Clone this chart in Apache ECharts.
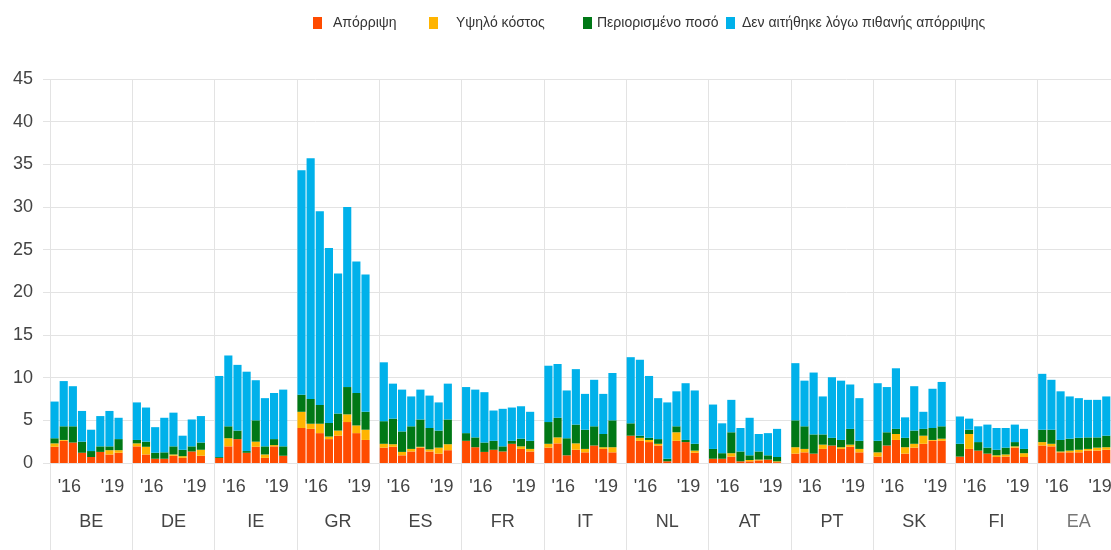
<!DOCTYPE html>
<html><head><meta charset="utf-8">
<script src="https://cdn.jsdelivr.net/npm/echarts@6/dist/echarts.min.js"></script>
<style>html,body{margin:0;padding:0;background:#fff}#c{width:1111px;height:550px}</style>
</head><body><div id="c"></div>
<script>
const countries = ['BE','DE','IE','GR','ES','FR','IT','NL','AT','PT','SK','FI','EA'];
const yearTicks = ['', '', "'16", '', '', '', "'19", ''];
const seriesNames = ['Απόρριψη', 'Υψηλό κόστος', 'Περιορισμένο ποσό', 'Δεν αιτήθηκε λόγω πιθανής απόρριψης'];

const rejected = [
  [1.9,2.6,2.4,1.2,0.7,1.3,1.0,1.2],
  [1.95,1.0,0.5,0.5,0.85,0.6,1.35,0.85],
  [0.6,1.95,2.8,1.2,1.9,0.6,1.95,0.85],
  [4.1,4.0,3.5,2.8,3.2,4.8,3.5,2.7],
  [1.8,1.9,0.9,1.35,1.8,1.35,1.1,1.5],
  [2.6,1.85,1.3,1.55,1.35,2.25,1.65,1.35],
  [1.8,2.3,0.9,1.55,1.25,2.05,1.65,1.25],
  [3.2,2.6,2.45,2.05,0.2,2.6,2.45,1.2],
  [0.5,0.5,0.75,0.2,0.2,0.3,0.4,0.1],
  [1.1,1.25,1.1,1.65,2.05,1.65,1.9,1.25],
  [0.75,2.05,2.7,1.1,1.8,2.25,2.6,2.6],
  [0.75,1.65,1.45,1.1,0.7,0.75,1.8,0.7],
  [2.05,1.95,1.25,1.25,1.25,1.45,1.45,1.55]
];
const highCost = [
  [0.4,0.1,0,0,0,0,0.5,0.3],
  [0.35,0.9,0,0,0.15,0.2,0,0.7],
  [0,0.95,0,0,0.6,0.4,0.15,0],
  [1.9,0.6,1.1,0.3,0.6,0.9,0.9,1.2],
  [0.45,0.3,0.4,0.3,0.1,0.25,0.7,0.7],
  [0,0,0,0,0,0,0.3,0.3],
  [0.45,0.7,0,0.75,0.4,0,0.2,0.6],
  [0,0.35,0.25,0.2,0,1.0,0,0.25],
  [0,0,0.4,0,0.15,0.1,0,0.1],
  [0.75,0.4,0,0.5,0,0.2,0.25,0.4],
  [0.5,0,0.7,0.75,0.45,0.95,0.1,0.25],
  [0,1.75,0,0,0.2,0.25,0.15,0.45],
  [0.4,0.3,0.1,0.2,0.3,0.2,0.35,0.3]
];
const limitedAmount = [
  [0.6,1.6,1.9,1.3,0.7,0.65,0.45,1.3],
  [0.4,0.6,0.7,0.75,0.95,0.75,0.6,0.85],
  [0.1,1.4,1.0,0.2,2.5,0.95,0.7,1.1],
  [2.0,2.9,2.2,1.6,2.0,3.2,3.8,2.1],
  [2.65,3.0,2.4,2.65,3.2,2.5,2.0,2.9],
  [0.9,1.15,1.1,1.05,0.6,0.35,0.9,0.95],
  [2.55,2.3,2.0,2.2,2.25,2.25,1.55,3.15],
  [1.45,0.25,0.25,0.55,0.3,0.7,0.25,0.8],
  [1.15,0.65,2.45,1.15,0.55,0.95,0.5,0.5],
  [3.15,2.65,2.25,1.2,0.9,0.85,1.85,0.95],
  [1.35,1.55,0.6,1.1,1.55,0.8,1.4,1.45],
  [1.5,0.5,1.0,0.7,0.65,0.8,0.5,0.5],
  [1.45,1.65,1.35,1.4,1.4,1.35,1.2,1.35]
];
const notApplied = [
  [4.3,5.3,4.7,3.6,2.5,3.55,4.15,2.5],
  [4.4,4.0,3.0,4.05,3.95,1.65,3.15,3.1],
  [9.5,8.3,7.7,9.3,4.7,5.65,5.4,6.65],
  [26.3,28.2,22.7,20.5,16.4,21.1,15.4,16.1],
  [6.9,4.1,4.9,3.5,3.5,3.8,3.3,4.2],
  [5.4,5.6,5.9,3.55,4.4,3.9,3.8,3.4],
  [6.6,6.3,5.6,6.5,4.2,5.45,4.7,5.55],
  [7.75,8.9,7.25,4.8,6.6,4.1,6.65,6.25],
  [5.2,3.5,3.8,2.75,4.4,2.05,2.6,3.3],
  [6.7,5.35,7.25,4.45,7.1,6.95,5.2,5.0],
  [6.75,5.3,7.1,2.4,5.2,2.0,4.6,5.2],
  [3.2,1.3,1.85,2.7,2.55,2.3,2.05,2.35],
  [6.55,5.85,5.7,4.95,4.65,4.4,4.4,4.6]
];

const colors = ['#FF4B00', '#FFB400', '#007816', '#00B1EA'];
const font = "'Liberation Sans', Arial, sans-serif";
const gridColor = '#e3e3e3';

// one extra empty slot after each country's bars
const slotsPerGroup = yearTicks.length + 1;
const cats = [];
countries.forEach(c => { for (let i = 0; i < slotsPerGroup; i++) cats.push(c + '-' + i); });
function flat(arr) {
  const out = [];
  arr.forEach(g => { g.forEach(v => out.push(v)); out.push('-'); });
  return out;
}
const allData = [rejected, highCost, limitedAmount, notApplied];

const legendLefts = [308, 424, 578, 721];
const legendTextPad = [6, 13, 0, 2];

const chart = echarts.init(document.getElementById('c'), null, {renderer: 'canvas'});
chart.setOption({
  animation: false,
  backgroundColor: '#fff',
  textStyle: {fontFamily: font},
  legend: seriesNames.map((n, i) => ({
    data: [n], left: legendLefts[i], top: 11, icon: 'rect',
    itemWidth: 9, itemHeight: 12, itemGap: 0,
    textStyle: {fontSize: 14, color: '#333', fontFamily: font, padding: [0, 0, 0, legendTextPad[i]]}
  })),
  grid: {left: 50, right: -9, top: 79, bottom: 87, containLabel: false, outerBoundsMode: 'none'},
  xAxis: [{
    type: 'category', data: cats, gridIndex: 0,
    axisLine: {show: false}, axisTick: {show: false}, splitLine: {show: false},
    axisLabel: {
      interval: 0, margin: 15, fontSize: 18, color: '#444', fontFamily: font,
      formatter: (v, idx) => {
        const k = idx % slotsPerGroup;
        const t = k < yearTicks.length ? yearTicks[k] : '';
        if (!t) return '';
        return k < 4 ? '{l|' + t + '}' : '{r|' + t + '}';
      },
      rich: {
        l: {fontSize: 18, color: '#444', fontFamily: font, padding: [0, 7, 0, 0]},
        r: {fontSize: 18, color: '#444', fontFamily: font, padding: [0, 0, 0, 6]}
      }
    }
  }, {
    type: 'category', data: countries, gridIndex: 0, position: 'bottom',
    axisLine: {show: false},
    axisTick: {show: true, interval: 0, length: 90, lineStyle: {color: gridColor}},
    splitLine: {show: true, interval: 0, lineStyle: {color: gridColor}},
    axisLabel: {
      interval: 0, margin: 50, fontSize: 18, fontFamily: font,
      color: (v) => v === 'EA' ? '#777' : '#444'
    }
  }],
  yAxis: {
    type: 'value', min: 0, max: 45, interval: 5,
    axisLine: {show: false},
    axisTick: {show: true, length: 7, lineStyle: {color: gridColor}},
    splitLine: {lineStyle: {color: gridColor}},
    axisLabel: {fontSize: 18, color: '#444', margin: 17, fontFamily: font}
  },
  series: seriesNames.map((n, i) => ({
    name: n, type: 'bar', stack: 'total', xAxisIndex: 0,
    barCategoryGap: '11%',
    itemStyle: {color: colors[i]},
    data: flat(allData[i])
  }))
});
</script></body></html>
